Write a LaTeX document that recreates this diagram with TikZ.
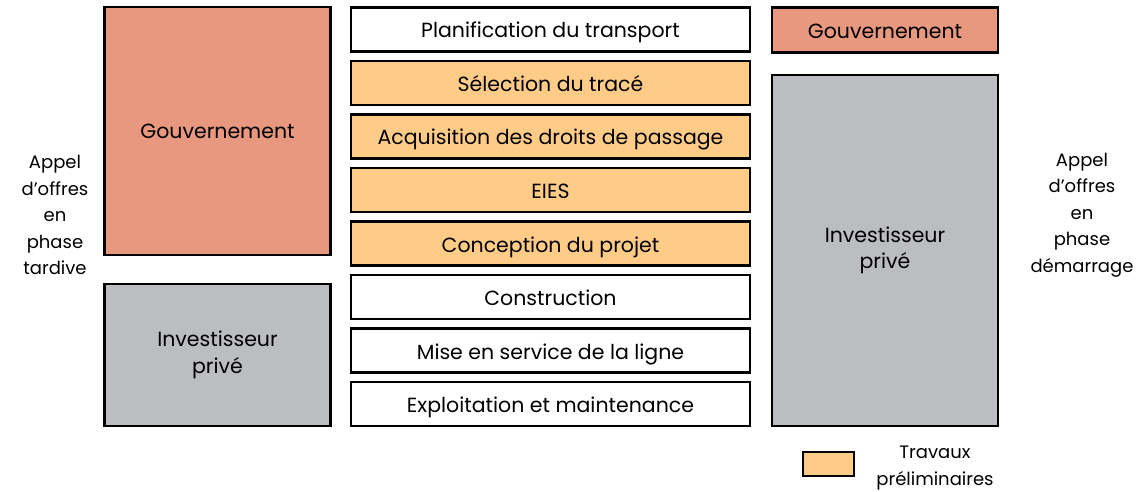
\documentclass[tikz,border=0pt]{standalone}
\usepackage{fontspec}
\setmainfont{Poppins}
\definecolor{govfill}{HTML}{E8987E}
\definecolor{prepfill}{HTML}{FFCC88}
\definecolor{privfill}{HTML}{BCBDC0}
\begin{document}
\begin{tikzpicture}[x=1pt,y=-1pt,
  box/.style={draw=black,line width=2.2pt,rectangle,inner sep=0pt,align=center,
    font=\fontsize{20.5}{26.5}\selectfont},
  oneline/.style={text height=18pt,text depth=1pt},
  stage/.style={box,oneline,minimum width=399pt,minimum height=44pt,fill=white},
  prep/.style={stage,fill=prepfill},
  side/.style={align=center,inner sep=0pt,font=\fontsize{18}{26.5}\selectfont}]
\useasboundingbox (0,0) rectangle (1136,492);

% left column: late-phase tender
\node[box,fill=govfill,minimum width=226pt,minimum height=248pt] (govL) at (217.5,131) {Gouvernement};
\node[box,fill=privfill,minimum width=226pt,minimum height=142pt] (privL) at (217.5,355) {Investisseur\\privé};

% project stages
\node[stage] (s1) at (550.5,29.5)  {Planification du transport};
\node[prep]  (s2) at (550.5,83)    {Sélection du tracé};
\node[prep]  (s3) at (550.5,136.5) {Acquisition des droits de passage};
\node[prep]  (s4) at (550.5,190)   {EIES};
\node[prep]  (s5) at (550.5,243.5) {Conception du projet};
\node[stage] (s6) at (550.5,297)   {Construction};
\node[stage] (s7) at (550.5,350.5) {Mise en service de la ligne};
\node[stage] (s8) at (550.5,404)   {Exploitation et maintenance};

% right column: early-phase tender
\node[box,oneline,fill=govfill,minimum width=226pt,minimum height=45pt] (govR) at (885,30) {Gouvernement};
\node[box,fill=privfill,minimum width=226pt,minimum height=351pt] (privR) at (885,250.5) {Investisseur\\privé};

% side labels
\node[side] (lblL) at (55,215) {Appel\\d’offres\\en\\phase\\tardive};
\node[side] (lblR) at (1082,215) {Appel\\d’offres\\en\\phase\\démarrage};

% legend
\node[box,fill=prepfill,minimum width=51pt,minimum height=24pt] (leg) at (828.5,464) {};
\node[side] (legtxt) at (935,468) {Travaux\\préliminaires};
\end{tikzpicture}
\end{document}
